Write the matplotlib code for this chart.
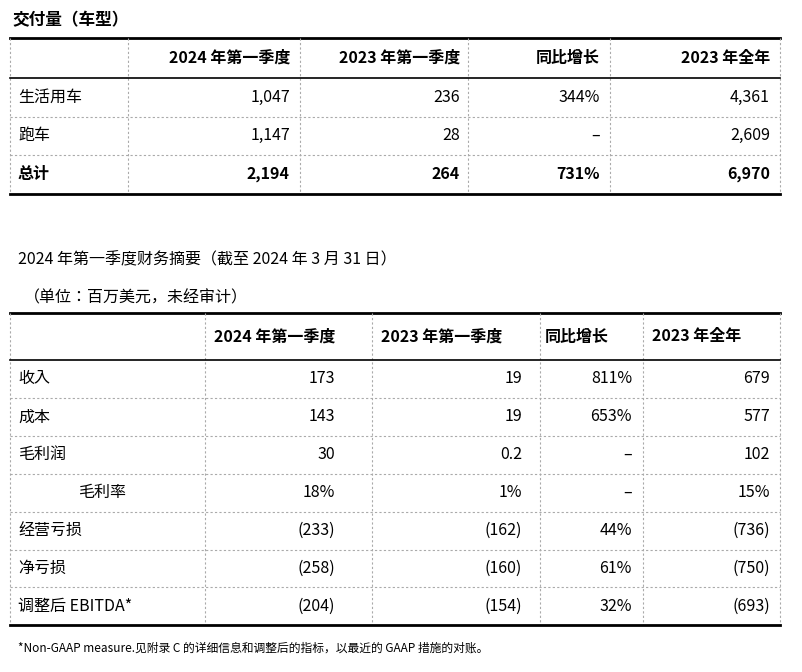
import matplotlib
matplotlib.use("Agg")
import matplotlib.pyplot as plt
from matplotlib import font_manager as fm

cjk = sorted({f.name for f in fm.fontManager.ttflist if "CJK" in f.name})
if not cjk:
    for p in fm.findSystemFonts():
        if "CJK" in p or "cjk" in p.lower():
            try:
                fm.fontManager.addfont(p)
            except Exception:
                pass
    cjk = sorted({f.name for f in fm.fontManager.ttflist if "CJK" in f.name})
pref = [n for n in cjk if n.endswith("SC")] + [n for n in cjk if not n.endswith("SC")]
plt.rcParams["font.family"] = ["sans-serif"]
plt.rcParams["font.sans-serif"] = pref + ["Noto Sans CJK SC", "DejaVu Sans"]

t1_title = "交付量（车型）"
t1_header = ["2024 年第一季度", "2023 年第一季度", "同比增长", "2023 年全年"]
t1_rows = ["生活用车", "跑车", "总计"]
t1_vals = [["1,047", "236", "344%", "4,361"],
           ["1,147", "28", "–", "2,609"],
           ["2,194", "264", "731%", "6,970"]]

t2_title = "2024 年第一季度财务摘要（截至 2024 年 3 月 31 日）"
t2_unit = "（单位：百万美元，未经审计）"
t2_header = ["2024 年第一季度", "2023 年第一季度", "同比增长", "2023 年全年"]
t2_rows = ["收入", "成本", "毛利润", "毛利率", "经营亏损", "净亏损", "调整后 EBITDA*"]
t2_vals = [["173", "19", "811%", "679"],
           ["143", "19", "653%", "577"],
           ["30", "0.2", "–", "102"],
           ["18%", "1%", "–", "15%"],
           ["(233)", "(162)", "44%", "(736)"],
           ["(258)", "(160)", "61%", "(750)"],
           ["(204)", "(154)", "32%", "(693)"]]
footnote = "*Non-GAAP measure.见附录 C 的详细信息和调整后的指标，以最近的 GAAP 措施的对账。"

fig = plt.figure(figsize=(8.03, 6.72), dpi=100)
ax = fig.add_axes([0, 0, 1, 1])
ax.set_xlim(0, 803); ax.set_ylim(672, 0); ax.axis("off")
fs = 11.5
L, R = 10, 780
gray = "#aaaaaa"

def hline(y, lw, style="-", c="black"):
    ax.plot([L, R], [y, y], color=c, lw=lw, ls=style)

def vline(x, y0, y1):
    ax.plot([x, x], [y0, y1], color=gray, lw=0.8, ls=(0, (2, 2)))

# Table 1
ax.text(12, 20, t1_title, fontsize=12, fontweight="bold", va="center")
top, hb = 38, 78
rh = 38.5
hline(top, 2)
for x in [L, 128, 300, 468, 610, R]:
    vline(x, top, hb + rh * 3)
cols1 = [290, 460, 600, 770]
for x, h in zip(cols1, t1_header):
    ax.text(x, (top + hb) / 2, h, fontsize=fs, fontweight="bold", ha="right", va="center")
hline(hb, 1.2)
for i, (r, vals) in enumerate(zip(t1_rows, t1_vals)):
    yc = hb + rh * (i + 0.5)
    w = "bold" if i == 2 else "normal"
    ax.text(18, yc, r, fontsize=fs, fontweight=w, va="center")
    for x, v in zip(cols1, vals):
        ax.text(x, yc, v, fontsize=fs, fontweight=w, ha="right", va="center")
    if i < 2:
        hline(hb + rh * (i + 1), 0.8, (0, (2, 2)), gray)
hline(hb + rh * 3, 2)

# Table 2
ax.text(18, 260, t2_title, fontsize=fs, va="center")
ax.text(24, 298, t2_unit, fontsize=fs, style="italic", va="center")
top2, hb2 = 313, 360
rh2 = 37.9
hline(top2, 2)
for x in [L, 205, 372, 540, 643, R]:
    vline(x, top2, hb2 + rh2 * 7)
hx = [214, 381, 545, 652]
for x, h in zip(hx, t2_header):
    ax.text(x, (top2 + hb2) / 2, h, fontsize=fs, fontweight="bold", ha="left", va="center")
hline(hb2, 1.2)
cols2 = [335, 522, 632, 770]
for i, (r, vals) in enumerate(zip(t2_rows, t2_vals)):
    yc = hb2 + rh2 * (i + 0.5)
    if r == "毛利率":
        ax.text(78, yc, r, fontsize=fs, style="italic", va="center")
    else:
        ax.text(18, yc, r, fontsize=fs, va="center")
    for x, v in zip(cols2, vals):
        ax.text(x, yc, v, fontsize=fs, ha="right", va="center")
    if i < 6:
        hline(hb2 + rh2 * (i + 1), 0.8, (0, (2, 2)), gray)
hline(hb2 + rh2 * 7, 2)

ax.text(18, 648, footnote, fontsize=8.5, va="center")

fig.savefig("out.png", dpi=100, facecolor="white")
